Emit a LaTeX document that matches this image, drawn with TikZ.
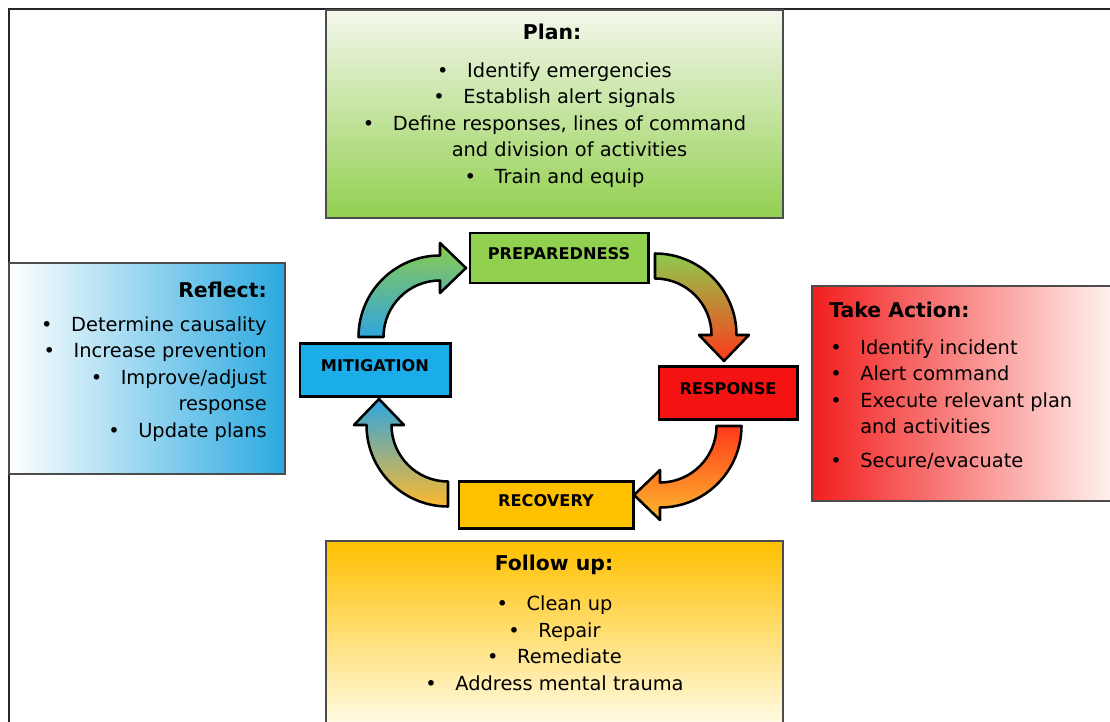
\documentclass[tikz,border=0pt]{standalone}
\usepackage{fontspec}
\setmainfont{DejaVu Sans}
\usetikzlibrary{calc}
\definecolor{cgreen}{HTML}{92D050}
\definecolor{cred}{HTML}{F51212}
\definecolor{corange}{HTML}{FFC000}
\definecolor{cblue}{HTML}{1AADEA}
\definecolor{agreen}{HTML}{8CCB4E}
\definecolor{ared}{HTML}{FF3A1A}
\definecolor{aorange}{HTML}{FDB92E}
\definecolor{ablue}{HTML}{2FA5E0}
\definecolor{plantop}{HTML}{F4F7EC}
\definecolor{reflectblue}{HTML}{2AA9E0}
\definecolor{actred}{HTML}{F21E1E}
\definecolor{actwhite}{HTML}{FFF8F4}
\definecolor{followbot}{HTML}{FFFDEB}
\newcommand{\bul}{\makebox[0.75cm][l]{\textbullet}}
\tikzset{
  stage/.style={draw=black,line width=2.1pt,text height=0.31cm,text depth=0.25cm,
    font=\fontsize{11.5}{13}\selectfont\bfseries,inner sep=0pt},
  infobox/.style={draw=black!70,line width=1pt,inner sep=0pt},
  infotitle/.style={font=\fontsize{14.5}{17}\selectfont\bfseries,inner sep=0pt},
  infotext/.style={font=\fontsize{13.8}{18.85}\selectfont,inner sep=0pt},
  cycarrow/.style={draw=black,line width=1.8pt,line join=round}
}

\begin{document}
\begin{tikzpicture}[x=0.025cm,y=-0.025cm]
  \clip (0,0) rectangle (1110,722);
  \fill[white] (0,0) rectangle (1110,722);

  % outer frame
  \draw[line width=1.5pt,black!85] (9,740) -- (9,9) -- (1130,9);

  % info boxes
  \node[infobox,minimum width=11.425cm,minimum height=5.2cm,top color=plantop,bottom color=cgreen] (plan) at (554.5,114) {};
  \node[infobox,minimum width=6.9cm,minimum height=5.275cm,left color=white,right color=reflectblue] (reflect) at (147,368.5) {};
  \node[infobox,minimum width=7.7cm,minimum height=5.375cm,left color=actred,right color=actwhite] (act) at (966,393.5) {};
  \node[infobox,minimum width=11.425cm,minimum height=4.725cm,top color=corange,bottom color=followbot] (follow) at (554.5,635.5) {};

  % texts of the info boxes
  \node[infotitle] (plantitle) at (552,32) {Plan:};
  \node[infotext,align=center] (planlist) at (554.5,125) {\bul Identify emergencies\\ \bul Establish alert signals\\
    \bul Define responses, lines of command\\ \hphantom{\bul}and division of activities\\ \bul Train and equip};

  \node[infotitle,anchor=east] (reflecttitle) at (267,290) {Reflect:};
  \node[infotext,align=right,anchor=east] (reflectlist) at (267,379) {\bul Determine causality\\ \bul Increase prevention\\
    \bul Improve/adjust\\ response\\ \bul Update plans};

  \node[infotitle,anchor=west] (acttitle) at (829,310) {Take Action:};
  \node[infotext,align=left,anchor=west] (actlist) at (830,404.5) {\bul Identify incident\\ \bul Alert command\\
    \bul Execute relevant plan\\ \hphantom{\bul}and activities\\[0.175cm] \bul Secure/evacuate};

  \node[infotitle] (followtitle) at (554,565) {Follow up:};
  \node[infotext,align=center] (followlist) at (554.5,643.5) {\bul Clean up\\ \bul Repair\\ \bul Remediate\\ \bul Address mental trauma};

  % centres of the curved arrows
  \coordinate (c1) at (440,337);
  \coordinate (c2) at (655,335);
  \coordinate (c3) at (660,426);
  \coordinate (c4) at (448,425);

  \foreach \ctr/\ang/\topc/\botc in {c1/180/agreen/ablue, c2/270/agreen/ared, c3/0/ared/aorange, c4/90/ablue/aorange}
    \draw[cycarrow,top color=\topc,bottom color=\botc]
      ($(\ctr)+(\ang:81.5)$) arc[start angle=\ang,end angle=\ang+90,radius=81.5]
      -- ($(\ctr)+(\ang+90:94)$) -- ($(\ctr)+(\ang+90:69)+(\ang+180:26)$)
      -- ($(\ctr)+(\ang+90:44)$) -- ($(\ctr)+(\ang+90:56.5)$)
      arc[start angle=\ang+90,end angle=\ang,radius=56.5] -- cycle;

  % stages of the cycle
  \node[stage,fill=cgreen,minimum width=4.45cm,minimum height=1.25cm] (prep) at (559,258) {PREPAREDNESS};
  \node[stage,fill=cred,minimum width=3.45cm,minimum height=1.325cm] (resp) at (728,393) {RESPONSE};
  \node[stage,fill=corange,minimum width=4.35cm,minimum height=1.175cm] (recov) at (546,505) {RECOVERY};
  \node[stage,fill=cblue,minimum width=3.75cm,minimum height=1.325cm] (mitig) at (375,370) {MITIGATION};
\end{tikzpicture}
\end{document}
